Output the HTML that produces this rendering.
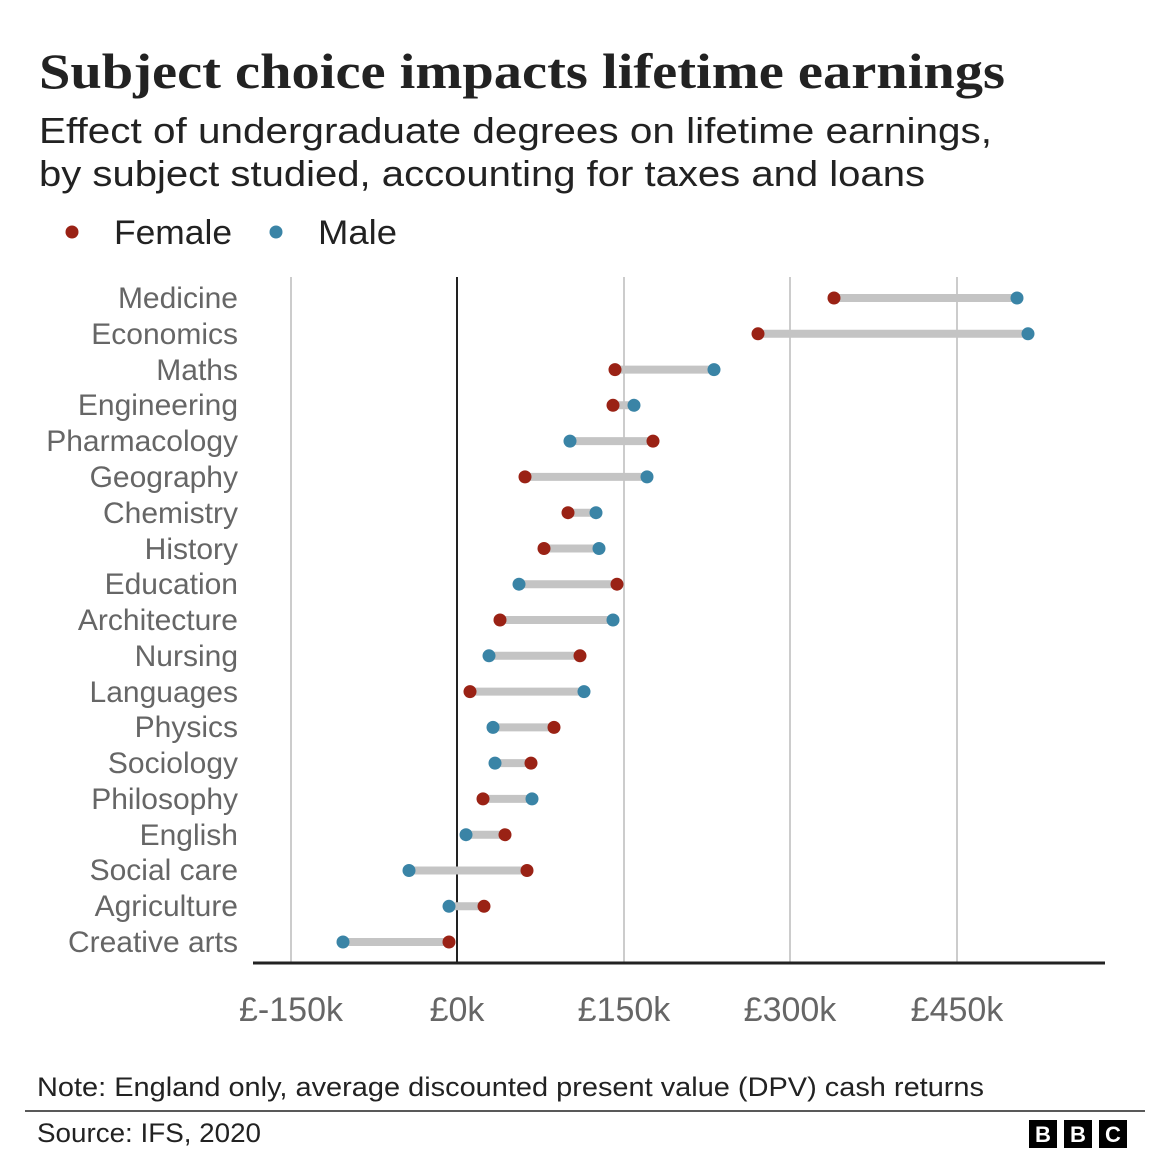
<!DOCTYPE html>
<html><head><meta charset="utf-8"><style>
html,body{margin:0;padding:0;background:#fff;}
svg{display:block;font-family:"Liberation Sans",sans-serif;}
</style></head><body>
<svg width="1170" height="1167" viewBox="0 0 1170 1167" xmlns="http://www.w3.org/2000/svg">
<text x="39" y="88" font-family="Liberation Serif,serif" font-weight="bold" font-size="50" fill="#222" textLength="966" lengthAdjust="spacingAndGlyphs">Subject choice impacts lifetime earnings</text>
<text x="39" y="143" font-size="36" fill="#222" textLength="953" lengthAdjust="spacingAndGlyphs">Effect of undergraduate degrees on lifetime earnings,</text>
<text x="39" y="186" font-size="36" fill="#222" textLength="886" lengthAdjust="spacingAndGlyphs">by subject studied, accounting for taxes and loans</text>
<circle cx="72" cy="232" r="6.5" fill="#9a2215"/>
<text x="114" y="244" font-size="34" fill="#222" textLength="118" lengthAdjust="spacingAndGlyphs">Female</text>
<circle cx="276" cy="232" r="6.5" fill="#3a84a6"/>
<text x="318" y="244" font-size="34" fill="#222" textLength="79" lengthAdjust="spacingAndGlyphs">Male</text>
<g stroke="#bbb" stroke-width="1.5">
<line x1="291" y1="277" x2="291" y2="963"/>
<line x1="624" y1="277" x2="624" y2="963"/>
<line x1="790" y1="277" x2="790" y2="963"/>
<line x1="957" y1="277" x2="957" y2="963"/>
</g>
<line x1="457" y1="277" x2="457" y2="963" stroke="#222" stroke-width="2"/>
<line x1="253" y1="963" x2="1105" y2="963" stroke="#222" stroke-width="3"/>
<g font-size="34" fill="#666" text-anchor="middle">
<text x="291" y="1021">£-150k</text><text x="457" y="1021">£0k</text><text x="624" y="1021">£150k</text><text x="790" y="1021">£300k</text><text x="957" y="1021">£450k</text>
</g>
<g font-size="30" fill="#666" text-anchor="end">
<text x="238" y="308">Medicine</text>
<text x="238" y="344">Economics</text>
<text x="238" y="380">Maths</text>
<text x="238" y="415">Engineering</text>
<text x="238" y="451">Pharmacology</text>
<text x="238" y="487">Geography</text>
<text x="238" y="523">Chemistry</text>
<text x="238" y="559">History</text>
<text x="238" y="594">Education</text>
<text x="238" y="630">Architecture</text>
<text x="238" y="666">Nursing</text>
<text x="238" y="702">Languages</text>
<text x="238" y="737">Physics</text>
<text x="238" y="773">Sociology</text>
<text x="238" y="809">Philosophy</text>
<text x="238" y="845">English</text>
<text x="238" y="880">Social care</text>
<text x="238" y="916">Agriculture</text>
<text x="238" y="952">Creative arts</text>
</g>
<g stroke="#c4c4c4" stroke-width="8">
<line x1="834" y1="298" x2="1017" y2="298"/>
<line x1="758" y1="333.8" x2="1028" y2="333.8"/>
<line x1="615" y1="369.6" x2="714" y2="369.6"/>
<line x1="613" y1="405.3" x2="634" y2="405.3"/>
<line x1="653" y1="441.1" x2="570" y2="441.1"/>
<line x1="525" y1="476.9" x2="647" y2="476.9"/>
<line x1="568" y1="512.7" x2="596" y2="512.7"/>
<line x1="544" y1="548.5" x2="599" y2="548.5"/>
<line x1="617" y1="584.2" x2="519" y2="584.2"/>
<line x1="500" y1="620" x2="613" y2="620"/>
<line x1="580" y1="655.8" x2="489" y2="655.8"/>
<line x1="470" y1="691.6" x2="584" y2="691.6"/>
<line x1="554" y1="727.4" x2="493" y2="727.4"/>
<line x1="531" y1="763.1" x2="495" y2="763.1"/>
<line x1="483" y1="798.9" x2="532" y2="798.9"/>
<line x1="505" y1="834.7" x2="466" y2="834.7"/>
<line x1="527" y1="870.5" x2="409" y2="870.5"/>
<line x1="484" y1="906.3" x2="449" y2="906.3"/>
<line x1="449" y1="942" x2="343" y2="942"/>
</g>
<g fill="#9a2215">
<circle cx="834" cy="298" r="6.5"/><circle cx="758" cy="333.8" r="6.5"/><circle cx="615" cy="369.6" r="6.5"/><circle cx="613" cy="405.3" r="6.5"/><circle cx="653" cy="441.1" r="6.5"/><circle cx="525" cy="476.9" r="6.5"/><circle cx="568" cy="512.7" r="6.5"/><circle cx="544" cy="548.5" r="6.5"/><circle cx="617" cy="584.2" r="6.5"/><circle cx="500" cy="620" r="6.5"/><circle cx="580" cy="655.8" r="6.5"/><circle cx="470" cy="691.6" r="6.5"/><circle cx="554" cy="727.4" r="6.5"/><circle cx="531" cy="763.1" r="6.5"/><circle cx="483" cy="798.9" r="6.5"/><circle cx="505" cy="834.7" r="6.5"/><circle cx="527" cy="870.5" r="6.5"/><circle cx="484" cy="906.3" r="6.5"/><circle cx="449" cy="942" r="6.5"/>
</g>
<g fill="#3a84a6">
<circle cx="1017" cy="298" r="6.5"/><circle cx="1028" cy="333.8" r="6.5"/><circle cx="714" cy="369.6" r="6.5"/><circle cx="634" cy="405.3" r="6.5"/><circle cx="570" cy="441.1" r="6.5"/><circle cx="647" cy="476.9" r="6.5"/><circle cx="596" cy="512.7" r="6.5"/><circle cx="599" cy="548.5" r="6.5"/><circle cx="519" cy="584.2" r="6.5"/><circle cx="613" cy="620" r="6.5"/><circle cx="489" cy="655.8" r="6.5"/><circle cx="584" cy="691.6" r="6.5"/><circle cx="493" cy="727.4" r="6.5"/><circle cx="495" cy="763.1" r="6.5"/><circle cx="532" cy="798.9" r="6.5"/><circle cx="466" cy="834.7" r="6.5"/><circle cx="409" cy="870.5" r="6.5"/><circle cx="449" cy="906.3" r="6.5"/><circle cx="343" cy="942" r="6.5"/>
</g>
<text x="37" y="1096" font-size="27" fill="#222" textLength="947" lengthAdjust="spacingAndGlyphs">Note: England only, average discounted present value (DPV) cash returns</text>
<line x1="25" y1="1111" x2="1145" y2="1111" stroke="#222" stroke-width="1.5"/>
<text x="37" y="1142" font-size="27" fill="#222" textLength="224" lengthAdjust="spacingAndGlyphs">Source: IFS, 2020</text>
<g font-weight="bold" font-size="22" text-anchor="middle" fill="#fff">
<rect x="1029" y="1120" width="28" height="28" fill="#000"/><text x="1043" y="1142">B</text>
<rect x="1064" y="1120" width="28" height="28" fill="#000"/><text x="1078" y="1142">B</text>
<rect x="1099" y="1120" width="28" height="28" fill="#000"/><text x="1113" y="1142">C</text>
</g>
</svg>
</body></html>
